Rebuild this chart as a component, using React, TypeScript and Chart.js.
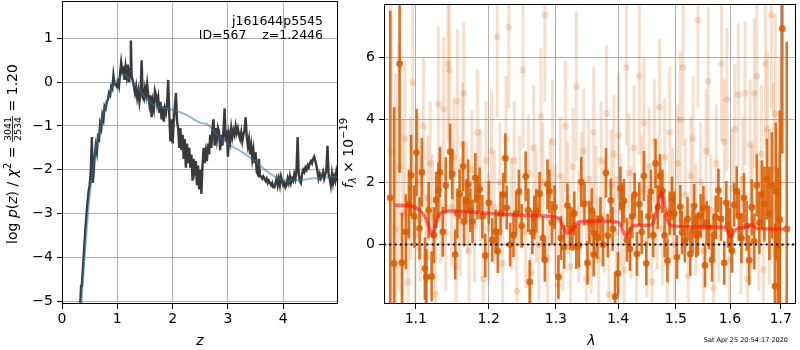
import React, { useEffect, useRef } from "react";
import { Chart, registerables } from "chart.js";

Chart.register(...registerables);

const FONT = "'DejaVu Sans', sans-serif";

// ---------- Left panel: log p(z) ----------
const zTicks = [0, 1, 2, 3, 4];
const logpTicks = [-5, -4, -3, -2, -1, 0, 1];

// noisy p(z) curve (z, log p)
const pzCurve: [number, number][] = [
  [0.33, -5.05], [0.345, -4.65], [0.36, -4.6], [0.39, -4.0], [0.42, -3.4], [0.45, -2.9], [0.48, -2.5], [0.5, -2.35],
  [0.52, -2.05], [0.54, -1.25], [0.555, -2.3], [0.57, -2.1], [0.59, -1.7], [0.61, -1.45], [0.63, -1.6], [0.65, -1.25],
  [0.67, -1.3], [0.69, -0.95], [0.71, -1.05], [0.73, -0.75], [0.75, -0.85], [0.77, -0.55], [0.79, -0.6], [0.81, -0.45],
  [0.83, -0.4], [0.85, -0.25], [0.87, -0.3], [0.89, -0.1], [0.91, -0.15], [0.93, 0.15], [0.95, -0.05], [0.97, -0.05],
  [0.99, -0.1], [1.01, 0.0], [1.03, -0.1], [1.05, 0.2], [1.07, 0.45], [1.09, 0.25], [1.11, 0.3], [1.13, 0.05],
  [1.15, 0.35], [1.17, 0.15], [1.19, 0.4], [1.21, 0.0], [1.23, 0.3], [1.245, 0.95], [1.26, 0.1], [1.28, 0.05],
  [1.3, -0.1], [1.32, -0.25], [1.34, -0.1], [1.36, -0.35], [1.38, -0.2], [1.4, -0.45], [1.42, -0.25], [1.44, 0.5],
  [1.46, -0.35], [1.48, -0.4], [1.5, -0.15], [1.52, -0.3], [1.54, -0.05], [1.56, -0.3], [1.58, -0.5], [1.6, -0.3],
  [1.62, -0.8], [1.64, -0.45], [1.66, -0.6], [1.68, -0.2], [1.7, -0.3], [1.72, -0.5], [1.74, -0.35], [1.76, -0.7],
  [1.78, -0.45], [1.8, -0.85], [1.82, -0.55], [1.84, -0.9], [1.86, -0.6], [1.88, -0.7], [1.9, -0.5], [1.92, 0.05],
  [1.94, -0.75], [1.96, -1.35], [1.98, -0.85], [2.0, -1.4], [2.02, -0.9], [2.04, -0.55], [2.06, -0.25], [2.08, -0.9],
  [2.1, -1.05], [2.12, -1.5], [2.14, -1.05], [2.16, -1.55], [2.18, -1.2], [2.2, -1.75], [2.22, -1.3], [2.24, -1.95],
  [2.26, -1.4], [2.28, -1.85], [2.3, -1.5], [2.32, -1.95], [2.34, -1.65], [2.36, -2.25], [2.38, -1.75], [2.4, -2.0],
  [2.42, -1.8], [2.44, -2.35], [2.46, -1.9], [2.48, -2.45], [2.5, -2.0], [2.52, -2.55], [2.54, -1.9], [2.56, -1.5],
  [2.58, -1.85], [2.6, -1.6], [2.62, -1.8], [2.64, -1.4], [2.66, -1.65], [2.68, -1.2], [2.7, -1.5], [2.72, -1.05],
  [2.74, -0.85], [2.76, -1.45], [2.78, -1.05], [2.8, -1.3], [2.82, -1.05], [2.84, -1.15], [2.86, -1.55], [2.88, -1.2],
  [2.9, -1.45], [2.92, -1.1], [2.94, -0.6], [2.96, -1.35], [2.98, -1.1], [3.0, -1.7], [3.02, -1.2], [3.04, -1.35],
  [3.06, -1.05], [3.08, -1.25], [3.1, -1.1], [3.12, -1.2], [3.14, -1.0], [3.16, -1.15], [3.18, -1.05], [3.2, -1.2],
  [3.22, -1.3], [3.24, -1.15], [3.26, -1.35], [3.28, -1.2], [3.3, -1.1], [3.32, -0.8], [3.34, -1.25], [3.36, -1.45],
  [3.38, -1.3], [3.4, -1.65], [3.42, -1.45], [3.44, -1.75], [3.46, -1.55], [3.48, -1.85], [3.5, -1.6], [3.52, -2.05],
  [3.54, -2.1], [3.56, -1.75], [3.58, -2.15], [3.6, -2.15], [3.62, -2.2], [3.64, -2.15], [3.66, -2.2], [3.68, -2.25],
  [3.7, -2.2], [3.72, -2.3], [3.74, -2.25], [3.76, -2.3], [3.78, -2.35], [3.8, -2.3], [3.82, -2.4], [3.84, -2.4],
  [3.86, -2.3], [3.88, -2.2], [3.9, -2.35], [3.92, -2.2], [3.94, -2.35], [3.96, -2.15], [3.98, -2.25], [4.0, -2.35],
  [4.02, -2.3], [4.04, -2.4], [4.06, -2.35], [4.08, -2.2], [4.1, -2.3], [4.12, -2.15], [4.14, -2.3], [4.16, -2.2],
  [4.18, -2.25], [4.2, -2.1], [4.22, -2.2], [4.24, -2.0], [4.26, -1.25], [4.28, -2.1], [4.3, -2.25], [4.32, -2.3],
  [4.34, -2.1], [4.36, -2.0], [4.38, -2.05], [4.4, -1.95], [4.42, -2.0], [4.44, -1.9], [4.46, -1.95], [4.48, -1.85],
  [4.5, -1.8], [4.52, -1.85], [4.54, -1.75], [4.56, -1.7], [4.58, -1.8], [4.6, -1.9], [4.62, -2.05], [4.64, -2.2],
  [4.66, -2.1], [4.68, -2.2], [4.7, -2.15], [4.72, -2.05], [4.74, -2.2], [4.76, -2.1], [4.78, -2.0], [4.8, -1.45],
  [4.82, -2.1], [4.84, -2.2], [4.86, -2.35], [4.88, -2.1], [4.9, -2.3], [4.92, -2.15], [4.94, -2.25], [4.96, -2.05],
  [4.98, -2.2], [5.0, -2.0],
];

// smooth prior/model curve (z, log p)
const pzSmooth: [number, number][] = [
  [0.35, -5.05], [0.4, -4.15], [0.45, -3.3], [0.5, -2.6], [0.55, -2.05], [0.6, -1.6], [0.65, -1.25], [0.7, -0.95],
  [0.75, -0.7], [0.8, -0.48], [0.85, -0.3], [0.9, -0.15], [0.95, -0.03], [1.0, 0.06], [1.05, 0.13], [1.1, 0.17],
  [1.15, 0.15], [1.2, 0.1], [1.25, 0.04], [1.3, -0.03], [1.35, -0.11], [1.4, -0.19], [1.45, -0.27], [1.5, -0.34],
  [1.55, -0.41], [1.6, -0.47], [1.65, -0.52], [1.7, -0.55], [1.8, -0.58], [1.9, -0.6], [2.0, -0.63], [2.1, -0.67],
  [2.2, -0.72], [2.3, -0.78], [2.4, -0.86], [2.5, -0.93], [2.55, -0.94], [2.62, -0.95], [2.7, -1.06], [2.8, -1.2],
  [2.9, -1.31], [3.0, -1.4], [3.1, -1.48], [3.2, -1.55], [3.3, -1.63], [3.4, -1.72], [3.5, -1.81], [3.6, -1.92],
  [3.7, -2.03], [3.8, -2.12], [3.9, -2.19], [4.0, -2.23], [4.1, -2.25], [4.2, -2.24], [4.3, -2.23], [4.4, -2.22],
  [4.5, -2.2], [4.6, -2.19], [4.7, -2.18], [4.8, -2.17], [4.9, -2.16], [4.99, -2.16],
];

// ---------- Right panel: spectrum ----------
const lamTicks = [1.1, 1.2, 1.3, 1.4, 1.5, 1.6, 1.7];
const fluxTicks = [0, 2, 4, 6];

const darkLam = [
  1.067, 1.072, 1.079, 1.082, 1.087, 1.091, 1.094, 1.098, 1.101, 1.105, 1.108, 1.112, 1.114, 1.117, 1.121, 1.124,
  1.127, 1.13, 1.132, 1.136, 1.14, 1.146, 1.149, 1.153, 1.156, 1.159, 1.164, 1.165, 1.168, 1.171, 1.174, 1.177,
  1.181, 1.184, 1.187, 1.191, 1.195, 1.2, 1.205, 1.21, 1.213, 1.217, 1.221, 1.224, 1.226, 1.231, 1.236, 1.24,
  1.244, 1.248, 1.254, 1.258, 1.26, 1.264, 1.267, 1.27, 1.275, 1.28, 1.283, 1.287, 1.29, 1.294, 1.298, 1.304,
  1.308, 1.313, 1.318, 1.322, 1.326, 1.329, 1.332, 1.336, 1.34, 1.345, 1.35, 1.353, 1.357, 1.36, 1.361, 1.366,
  1.371, 1.375, 1.38, 1.383, 1.388, 1.391, 1.395, 1.4, 1.404, 1.407, 1.41, 1.415, 1.42, 1.424, 1.428, 1.432,
  1.436, 1.44, 1.444, 1.448, 1.452, 1.456, 1.46, 1.464, 1.468, 1.472, 1.476, 1.48, 1.485, 1.489, 1.493, 1.497,
  1.502, 1.508, 1.511, 1.516, 1.521, 1.526, 1.53, 1.533, 1.537, 1.54, 1.545, 1.55, 1.553, 1.556, 1.56, 1.566,
  1.569, 1.573, 1.578, 1.583, 1.589, 1.593, 1.596, 1.6, 1.604, 1.608, 1.613, 1.617, 1.622, 1.627, 1.632, 1.637,
  1.642, 1.647, 1.652, 1.657, 1.662, 1.667, 1.672, 1.677, 1.682, 1.688, 1.69, 1.694, 1.698, 1.703, 1.712,
];
const darkFlux = [
  1.5, -0.6, 5.8, -0.58, 0.41, 1.3, 2.22, 0.9, 2.95, 0.52, 2.32, -0.77, -1.04, 1.1, -1.02, 0.3,
  1.43, 1.74, 2.32, 0.41, 1.9, 2.98, 2.26, -0.32, 1.0, 1.61, 2.51, 0.74, 1.4, 1.93, 1.1, 0.74,
  2.14, 1.5, 1.77, 0.9, -0.35, 1.34, 0.15, 0.42, -0.21, 1.0, 1.6, 2.77, 1.18, 0.0, 0.3, 1.0,
  1.7, 0.6, 2.19, 1.1, -1.2, 0.4, 0.87, 1.08, 1.63, 0.21, -0.49, 1.93, 1.71, 0.7, 1.2, -1.04,
  0.21, -0.08, 1.26, 0.53, 0.5, 1.0, -0.08, -0.03, 2.01, 1.31, -0.59, 0.71, 1.1, -0.32, 0.36, 0.23,
  0.82, 0.0, 2.3, 0.29, 1.42, 0.5, -1.67, -0.93, 1.8, 1.27, 1.4, 0.15, -0.14, 0.9, 1.6, -0.3,
  1.3, 0.4, 2.2, -0.6, 0.9, 1.7, 0.3, 2.6, 1.2, 2.2, 1.71, 0.29, -0.51, 1.0, 1.48, 1.0,
  -0.4, 1.21, 0.39, 0.13, 0.82, -0.3, 0.44, 1.24, 0.29, 0.34, 0.92, 1.18, -0.67, 0.7, 0.55, -0.49,
  0.3, 0.87, 1.74, 0.82, -0.59, 1.34, 0.6, 0.47, -0.2, 1.27, 1.71, 0.92, 0.2, 1.5, 0.6, -0.5,
  1.2, 0.1, 1.9, 0.7, 1.6, 1.3, 2.1, 1.0, 1.9, -1.33, 1.71, -0.04, 0.8, 6.92, 0.5,
];
const darkErr = [
  6.0, 5.0, 3.5, 1.6, 1.2, 1.1, 1.3, 1.0, 1.4, 1.0, 1.1, 1.0, 0.9, 0.9, 0.8, 0.9,
  0.9, 0.9, 0.8, 0.8, 0.9, 0.9, 0.8, 0.8, 0.8, 0.8, 0.8, 0.8, 0.7, 0.8, 0.7, 0.7,
  0.8, 0.7, 0.7, 0.7, 0.7, 0.7, 0.7, 0.7, 0.7, 0.7, 0.7, 0.8, 0.7, 0.7, 0.7, 0.7,
  0.7, 0.7, 0.8, 0.7, 0.7, 0.7, 0.7, 0.7, 0.7, 0.7, 0.7, 0.8, 0.7, 0.7, 0.7, 0.7,
  0.7, 0.7, 0.7, 0.7, 0.7, 0.7, 0.7, 0.7, 0.8, 0.7, 0.7, 0.7, 0.7, 0.7, 0.7, 0.7,
  0.7, 0.7, 0.8, 0.7, 0.7, 0.7, 0.8, 0.7, 0.7, 0.7, 0.7, 0.7, 0.7, 0.7, 0.7, 0.7,
  0.7, 0.7, 0.8, 0.7, 0.7, 0.7, 0.7, 0.8, 0.7, 0.7, 0.7, 0.7, 0.7, 0.7, 0.7, 0.7,
  0.7, 0.7, 0.7, 0.7, 0.7, 0.7, 0.7, 0.7, 0.7, 0.7, 0.7, 0.7, 0.7, 0.7, 0.7, 0.7,
  0.7, 0.7, 0.7, 0.7, 0.7, 0.7, 0.7, 0.7, 0.7, 0.7, 0.8, 0.8, 0.8, 0.8, 0.8, 0.8,
  0.9, 0.9, 1.0, 1.0, 1.1, 1.2, 1.3, 1.5, 1.7, 2.0, 2.2, 2.5, 3.5, 4.0, 6.0,
];

const lightLam = [
  1.068, 1.074, 1.078, 1.083, 1.086, 1.09, 1.093, 1.096, 1.099, 1.103, 1.106, 1.11, 1.113, 1.116, 1.119, 1.122,
  1.126, 1.13, 1.133, 1.137, 1.14, 1.143, 1.145, 1.148, 1.151, 1.154, 1.156, 1.16, 1.163, 1.165, 1.169, 1.172,
  1.176, 1.18, 1.184, 1.188, 1.192, 1.196, 1.2, 1.204, 1.208, 1.212, 1.216, 1.22, 1.225, 1.229, 1.233, 1.237,
  1.241, 1.245, 1.25, 1.254, 1.258, 1.262, 1.266, 1.27, 1.274, 1.277, 1.28, 1.283, 1.287, 1.291, 1.295, 1.299,
  1.303, 1.307, 1.311, 1.315, 1.319, 1.323, 1.327, 1.332, 1.336, 1.34, 1.344, 1.348, 1.352, 1.356, 1.36, 1.364,
  1.368, 1.372, 1.377, 1.381, 1.385, 1.389, 1.393, 1.397, 1.401, 1.405, 1.41, 1.414, 1.418, 1.422, 1.427, 1.431,
  1.436, 1.44, 1.444, 1.449, 1.453, 1.458, 1.462, 1.467, 1.471, 1.476, 1.48, 1.485, 1.489, 1.494, 1.498, 1.503,
  1.508, 1.513, 1.517, 1.522, 1.527, 1.531, 1.536, 1.54, 1.545, 1.55, 1.555, 1.559, 1.564, 1.569, 1.574, 1.579,
  1.584, 1.589, 1.594, 1.599, 1.604, 1.609, 1.616, 1.621, 1.625, 1.629, 1.634, 1.639, 1.643, 1.647, 1.652, 1.656,
  1.661, 1.665, 1.669, 1.673, 1.677, 1.681, 1.685, 1.689, 1.694, 1.698,
];
const lightFlux = [
  3.0, 0.5, 2.5, 1.0, 3.4, -1.2, 1.8, 5.2, 0.3, 2.0, 0.8, 3.8, -0.4, 1.5, 2.6, 0.9,
  -1.6, 4.5, 1.3, 4.35, 0.4, 5.81, 5.6, 1.2, 2.8, -0.7, 4.6, 0.9, 3.2, 4.85, 1.5, -0.2,
  2.4, 0.6, 3.6, 1.9, -1.1, 2.7, 0.5, 3.0, 1.2, 6.66, 2.0, -0.6, 3.4, 6.97, 1.0, 2.7,
  -1.5, 1.7, 5.6, 0.4, 2.3, -0.9, 3.1, 1.2, 0.0, 4.1, 2.0, 7.36, -0.4, 1.6, 3.3, 0.8,
  -1.3, 2.2, 0.3, 3.8, 1.5, -0.7, 2.5, 5.07, 0.6, 1.8, 3.0, -1.1, 2.1, 0.2, 3.6, 1.4,
  -0.5, 2.7, 0.9, 4.2, -1.6, 1.9, 2.9, 0.4, 3.5, 1.1, -0.8, 5.68, 2.3, 0.7, 3.1, -0.3,
  5.4, 1.7, 3.9, 0.1, 2.5, -1.2, 3.3, 1.0, 4.4, 0.5, 2.8, -0.6, 3.6, 1.3, 0.0, 2.6,
  4.0, 5.68, 1.6, -1.0, 2.2, 3.4, 0.8, 7.2, 2.0, -0.2, 3.0, 5.23, 1.1, -1.4, 2.6, 0.6,
  5.8, 3.3, 4.65, -0.5, 1.8, 3.7, 4.8, 0.3, 2.1, 4.85, -1.1, 3.2, 1.2, 4.85, 5.4, 0.6,
  2.9, -0.8, 5.8, 3.7, 1.2, 7.36, 2.4, 4.2, -0.5, 2.0,
];
const lightErr = [
  6.0, 5.0, 4.0, 3.0, 2.5, 2.5, 2.3, 2.8, 2.2, 2.2, 2.0, 2.2, 2.0, 2.0, 2.0, 2.0,
  2.0, 2.5, 1.9, 2.3, 1.9, 2.5, 2.5, 1.9, 1.9, 1.9, 2.3, 1.9, 2.0, 2.3, 1.8, 1.8,
  1.9, 1.8, 2.0, 1.8, 1.8, 1.9, 1.8, 2.0, 1.8, 2.6, 1.9, 1.8, 2.0, 2.6, 1.8, 1.9,
  1.8, 1.8, 2.5, 1.8, 1.9, 1.8, 2.0, 1.8, 1.8, 2.2, 1.9, 2.8, 1.8, 1.8, 2.0, 1.8,
  1.8, 1.9, 1.8, 2.1, 1.8, 1.8, 1.9, 2.4, 1.8, 1.8, 2.0, 1.8, 1.9, 1.8, 2.1, 1.8,
  1.8, 1.9, 1.8, 2.2, 1.8, 1.8, 1.9, 1.8, 2.0, 1.8, 1.8, 2.5, 1.9, 1.8, 2.0, 1.8,
  2.5, 1.8, 2.1, 1.8, 1.9, 1.8, 2.0, 1.8, 2.2, 1.8, 1.9, 1.8, 2.1, 1.8, 1.8, 1.9,
  2.2, 2.5, 1.8, 1.8, 1.9, 2.0, 1.8, 2.8, 1.9, 1.8, 2.0, 2.4, 1.8, 1.8, 1.9, 1.8,
  2.5, 2.0, 2.3, 1.9, 1.9, 2.1, 2.3, 1.9, 2.0, 2.3, 2.0, 2.1, 2.0, 2.4, 2.5, 2.1,
  2.2, 2.2, 2.6, 2.5, 2.5, 3.0, 2.8, 3.2, 3.5, 4.0,
];

const modelLam = [
  1.073, 1.085, 1.096, 1.105, 1.112, 1.117, 1.122, 1.126, 1.13, 1.136, 1.145, 1.2, 1.25, 1.3, 1.306, 1.312,
  1.318, 1.324, 1.33, 1.338, 1.36, 1.4, 1.405, 1.41, 1.414, 1.418, 1.424, 1.432, 1.456, 1.462, 1.467, 1.472,
  1.475, 1.478, 1.482, 1.487, 1.493, 1.55, 1.59, 1.596, 1.601, 1.606, 1.612, 1.628, 1.637, 1.643, 1.65, 1.68,
  1.706,
];
const modelFlux = [
  1.26, 1.25, 1.22, 1.1, 0.9, 0.6, 0.29, 0.6, 0.9, 1.05, 1.08, 1.0, 0.94, 0.88, 0.8, 0.55,
  0.37, 0.42, 0.62, 0.73, 0.76, 0.72, 0.6, 0.35, 0.28, 0.4, 0.58, 0.62, 0.63, 0.8, 1.15, 1.55,
  1.68, 1.5, 1.0, 0.7, 0.6, 0.57, 0.55, 0.4, 0.25, 0.38, 0.5, 0.55, 0.6, 0.64, 0.52, 0.5,
  0.5,
];

const DARK = "rgba(217,95,2,0.88)";
const LIGHT = "rgba(217,95,2,0.2)";
const MINUS = "\u2212";

type Run = { t: string; f: string; dy?: number };
function runsWidth(ctx: CanvasRenderingContext2D, runs: Run[]) {
  let w = 0;
  for (const r of runs) {
    ctx.font = r.f;
    w += ctx.measureText(r.t).width;
  }
  return w;
}
function drawRuns(ctx: CanvasRenderingContext2D, runs: Run[], x: number, y: number) {
  let cx = x;
  for (const r of runs) {
    ctx.font = r.f;
    ctx.fillText(r.t, cx, y + (r.dy || 0));
    cx += ctx.measureText(r.t).width;
  }
  return cx;
}

const framePlugin = {
  id: "frame",
  afterDraw(chart: any) {
    const { ctx, chartArea: a } = chart;
    ctx.save();
    ctx.strokeStyle = "#000";
    ctx.lineWidth = 1;
    ctx.strokeRect(Math.round(a.left) + 0.5, Math.round(a.top) + 0.5, Math.round(a.right - a.left) - 1, Math.round(a.bottom - a.top) - 1);
    ctx.restore();
  },
};

const errorBarPlugin = {
  id: "errbars",
  beforeDatasetDraw(chart: any, args: any) {
    const ds: any = chart.data.datasets[args.index];
    if (!ds.errors) return;
    const { ctx, chartArea: a, scales } = chart;
    ctx.save();
    ctx.beginPath();
    ctx.rect(a.left, a.top, a.right - a.left, a.bottom - a.top);
    ctx.clip();
    ctx.strokeStyle = ds.errColor;
    ctx.lineWidth = ds.errWidth;
    ctx.lineCap = "butt";
    ds.data.forEach((p: any, i: number) => {
      const x = scales.x.getPixelForValue(p.x);
      const y1 = scales.y.getPixelForValue(p.y - ds.errors[i]);
      const y2 = scales.y.getPixelForValue(p.y + ds.errors[i]);
      ctx.beginPath();
      ctx.moveTo(x, y1);
      ctx.lineTo(x, y2);
      ctx.stroke();
    });
    ctx.restore();
  },
};

const leftTextPlugin = {
  id: "leftText",
  afterDraw(chart: any) {
    const ctx: CanvasRenderingContext2D = chart.ctx;
    ctx.save();
    ctx.fillStyle = "#000";
    ctx.textBaseline = "alphabetic";
    ctx.font = `12.5px ${FONT}`;
    ctx.textAlign = "right";
    ctx.fillText("j161644p5545", 323, 24.5);
    ctx.fillText("ID=567    z=1.2446", 323, 38.5);
    ctx.textAlign = "center";
    ctx.font = `italic 14px ${FONT}`;
    ctx.fillText("z", 200, 345);
    ctx.textAlign = "left";
    ctx.translate(17, 154);
    ctx.rotate(-Math.PI / 2);
    const N = `14px ${FONT}`;
    const I = `italic 14px ${FONT}`;
    const S = `10px ${FONT}`;
    const F = `9.5px ${FONT}`;
    const pre: Run[] = [
      { t: "log ", f: N }, { t: "p", f: I }, { t: "(", f: N }, { t: "z", f: I }, { t: ")", f: N },
      { t: " / ", f: N }, { t: "χ", f: I }, { t: "2", f: S, dy: -6 }, { t: " = ", f: N },
    ];
    const post: Run[] = [{ t: " = 1.20", f: N }];
    ctx.font = F;
    const fracW = Math.max(ctx.measureText("3041").width, ctx.measureText("2534").width) + 2;
    const total = runsWidth(ctx, pre) + fracW + runsWidth(ctx, post);
    let x0 = -total / 2;
    x0 = drawRuns(ctx, pre, x0, 0);
    ctx.fillRect(x0, -5, fracW, 0.8);
    ctx.font = F;
    ctx.textAlign = "center";
    ctx.fillText("3041", x0 + fracW / 2, -6.3);
    ctx.fillText("2534", x0 + fracW / 2, 3.8);
    ctx.textAlign = "left";
    drawRuns(ctx, post, x0 + fracW, 0);
    ctx.restore();
  },
};

const rightTextPlugin = {
  id: "rightText",
  afterDraw(chart: any) {
    const ctx: CanvasRenderingContext2D = chart.ctx;
    ctx.save();
    ctx.fillStyle = "#000";
    ctx.textBaseline = "alphabetic";
    ctx.textAlign = "center";
    ctx.font = `italic 14px ${FONT}`;
    ctx.fillText("λ", 591.5, 345);
    ctx.font = `6.5px ${FONT}`;
    ctx.textAlign = "right";
    ctx.fillText("Sat Apr 25 20:54:17 2020", 788, 342);
    ctx.textAlign = "left";
    ctx.translate(353, 153);
    ctx.rotate(-Math.PI / 2);
    const runs: Run[] = [
      { t: "f", f: `italic 14px ${FONT}` },
      { t: "λ", f: `italic 10px ${FONT}`, dy: 3 },
      { t: " × 10", f: `14px ${FONT}` },
      { t: MINUS + "19", f: `10px ${FONT}`, dy: -6 },
    ];
    const w = runsWidth(ctx, runs);
    drawRuns(ctx, runs, -w / 2, 0);
    ctx.restore();
  },
};

const tickFont = { family: FONT, size: 14 };
const gridOpts = { color: "#b0b0b0", lineWidth: 1, tickColor: "#000", tickLength: 5, drawTicks: true };
const fmtSigned = (v: any) => (Number(v) < 0 ? MINUS + String(-Number(v)) : String(v));
const fitX = (s: any) => { s.height = 46; s.paddingLeft = 0; s.paddingRight = 0; s.paddingTop = 0; s.paddingBottom = 0; };
const fitYw = (w: number) => (s: any) => { s.width = w; s.paddingLeft = 0; s.paddingRight = 0; s.paddingTop = 0; s.paddingBottom = 0; };

export default function App() {
  const leftRef = useRef<HTMLCanvasElement | null>(null);
  const rightRef = useRef<HTMLCanvasElement | null>(null);

  useEffect(() => {
    const left = new Chart(leftRef.current as HTMLCanvasElement, {
      type: "scatter",
      data: {
        datasets: [
          {
            data: pzSmooth.map(([x, y]) => ({ x, y })),
            showLine: true,
            borderColor: "rgba(31,119,180,0.5)",
            borderWidth: 2,
            pointRadius: 0,
          },
          {
            data: pzCurve.map(([x, y]) => ({ x, y })),
            showLine: true,
            borderColor: "#3a3a3a",
            borderWidth: 2.4,
            pointRadius: 0,
          },
        ],
      },
      options: {
        animation: false,
        responsive: false,
        events: [],
        layout: { padding: { left: 0, top: 1, right: 462, bottom: 0 } },
        plugins: { legend: { display: false }, tooltip: { enabled: false } },
        scales: {
          x: {
            type: "linear",
            min: 0,
            max: 4.99,
            afterFit: fitX,
            afterBuildTicks: (s: any) => { s.ticks = zTicks.map((v) => ({ value: v })); },
            grid: gridOpts,
            border: { display: false },
            ticks: { color: "#000", font: tickFont, padding: 2, autoSkip: false, maxRotation: 0, callback: fmtSigned },
          },
          y: {
            type: "linear",
            min: -5.06,
            max: 1.85,
            afterFit: fitYw(62),
            afterBuildTicks: (s: any) => { s.ticks = logpTicks.map((v) => ({ value: v })); },
            grid: gridOpts,
            border: { display: false },
            ticks: { color: "#000", font: tickFont, padding: 4, autoSkip: false, callback: fmtSigned },
          },
        },
      },
      plugins: [framePlugin, leftTextPlugin],
    } as any);

    const right = new Chart(rightRef.current as HTMLCanvasElement, {
      type: "scatter",
      data: {
        datasets: [
          {
            data: [{ x: 1.0591, y: 0 }, { x: 1.731, y: 0 }],
            showLine: true,
            borderColor: "#000",
            borderWidth: 2,
            borderDash: [2, 3.3],
            pointRadius: 0,
          },
          {
            data: modelLam.map((x, i) => ({ x, y: modelFlux[i] })),
            showLine: true,
            borderColor: "rgba(255,20,10,0.6)",
            borderWidth: 3.5,
            pointRadius: 0,
            cubicInterpolationMode: "monotone",
          },
          {
            data: darkLam.map((x, i) => ({ x, y: darkFlux[i] })),
            errors: darkErr,
            errColor: DARK,
            errWidth: 2.6,
            pointRadius: 3.4,
            pointBorderWidth: 0,
            pointBackgroundColor: DARK,
            showLine: false,
          },
          {
            data: lightLam.map((x, i) => ({ x, y: lightFlux[i] })),
            errors: lightErr,
            errColor: LIGHT,
            errWidth: 3,
            pointRadius: 3.4,
            pointBorderWidth: 0,
            pointBackgroundColor: LIGHT,
            showLine: false,
          },
        ],
      },
      options: {
        animation: false,
        responsive: false,
        events: [],
        layout: { padding: { left: 0, top: 1, right: 1, bottom: 0 } },
        plugins: { legend: { display: false }, tooltip: { enabled: false } },
        scales: {
          x: {
            type: "logarithmic",
            min: 1.0591,
            max: 1.731,
            afterFit: fitX,
            afterBuildTicks: (s: any) => { s.ticks = lamTicks.map((v) => ({ value: v })); },
            grid: gridOpts,
            border: { display: false },
            ticks: { color: "#000", font: tickFont, padding: 2, autoSkip: false, maxRotation: 0, callback: (v: any) => Number(v).toFixed(1) },
          },
          y: {
            type: "linear",
            min: -1.905,
            max: 7.714,
            afterFit: fitYw(384),
            afterBuildTicks: (s: any) => { s.ticks = fluxTicks.map((v) => ({ value: v })); },
            grid: gridOpts,
            border: { display: false },
            ticks: { color: "#000", font: tickFont, padding: 4, autoSkip: false, callback: fmtSigned },
          },
        },
      },
      plugins: [framePlugin, errorBarPlugin, rightTextPlugin],
    } as any);

    return () => {
      left.destroy();
      right.destroy();
    };
  }, []);

  const style: React.CSSProperties = { position: "absolute", left: 0, top: 0, width: 800, height: 350 };
  return (
    <div style={{ position: "fixed", left: 0, top: 0, width: 800, height: 350, background: "#fff" }}>
      <canvas ref={rightRef} width={800} height={350} style={style} />
      <canvas ref={leftRef} width={800} height={350} style={style} />
    </div>
  );
}
